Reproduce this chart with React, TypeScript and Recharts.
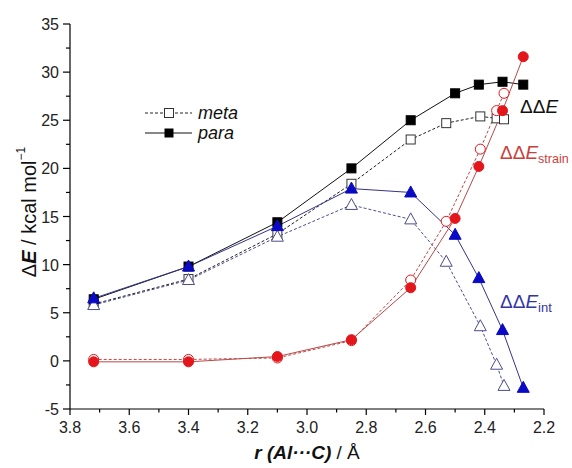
import { LineChart, Line, XAxis, YAxis } from 'recharts';

// r (Al···C) distances, Å
const rPara = [3.72, 3.40, 3.10, 2.85, 2.65, 2.50, 2.42, 2.34, 2.27];
const rMeta = [3.72, 3.40, 3.10, 2.85, 2.65, 2.53, 2.415, 2.36, 2.335];

// ΔΔE (total)
const totalPara = [6.4, 9.8, 14.4, 20.0, 25.0, 27.8, 28.7, 29.0, 28.7];
const totalMeta = [5.9, 8.5, 13.2, 18.4, 23.0, 24.7, 25.4, 25.2, 25.1];

// ΔΔE strain
const strainPara = [-0.1, -0.1, 0.45, 2.2, 7.6, 14.8, 20.2, 26.0, 31.6];
const strainMeta = [0.15, 0.15, 0.3, 2.1, 8.4, 14.5, 22.0, 26.0, 27.8];

// ΔΔE int
const intPara = [6.5, 9.8, 14.0, 17.9, 17.5, 13.1, 8.6, 3.2, -2.8];
const intMeta = [5.8, 8.4, 12.9, 16.2, 14.7, 10.3, 3.6, -0.4, -2.6];

const xTicks = [3.8, 3.7, 3.6, 3.5, 3.4, 3.3, 3.2, 3.1, 3.0, 2.9, 2.8, 2.7, 2.6, 2.5, 2.4, 2.3, 2.2];
const xLabels = [3.8, 3.6, 3.4, 3.2, 3.0, 2.8, 2.6, 2.4, 2.2];
const yTicks = [-5, -2.5, 0, 2.5, 5, 7.5, 10, 12.5, 15, 17.5, 20, 22.5, 25, 27.5, 30, 32.5, 35];
const yLabels = [-5, 0, 5, 10, 15, 20, 25, 30, 35];

const rows = (r: number[], v: number[]) => r.map((x, i) => ({ r: x, v: v[i] }));

const FONT = '"Liberation Sans", Arial, sans-serif';
const RED = '#e3161b';
const RED_LINE = '#b94848';
const BLUE = '#0a0ac4';
const BLUE_LINE = '#34348a';
const BLUE_OPEN = '#4d4d8a';

const square = (fill: string, stroke: string) => (p: any) => (
  <rect key={p.index} x={p.cx - 4.5} y={p.cy - 4.5} width={9} height={9} fill={fill} stroke={stroke} strokeWidth={1} />
);
const circle = (fill: string, stroke: string) => (p: any) => (
  <circle key={p.index} cx={p.cx} cy={p.cy} r={5} fill={fill} stroke={stroke} strokeWidth={1} />
);
const triangle = (fill: string, stroke: string) => (p: any) => (
  <polygon
    key={p.index}
    points={`${p.cx},${p.cy - 6.5} ${p.cx - 6},${p.cy + 4.5} ${p.cx + 6},${p.cy + 4.5}`}
    fill={fill}
    stroke={stroke}
    strokeWidth={1}
  />
);

const XTick = (p: any) => {
  const v = p.payload.value;
  const major = xLabels.some((l) => Math.abs(l - v) < 1e-6);
  return (
    <g>
      <line x1={p.x} x2={p.x} y1={p.y} y2={p.y + (major ? 6 : 3.5)} stroke="#000" strokeWidth={1.2} />
      {major && (
        <text x={p.x} y={p.y + 24} textAnchor="middle" fontSize={16} fontFamily={FONT} fill="#222">
          {v.toFixed(1)}
        </text>
      )}
    </g>
  );
};

const YTick = (p: any) => {
  const v = p.payload.value;
  const major = yLabels.includes(v);
  return (
    <g>
      <line x1={p.x - (major ? 7 : 4)} x2={p.x} y1={p.y} y2={p.y} stroke="#000" strokeWidth={1.2} />
      {major && (
        <text x={p.x - 11} y={p.y + 6} textAnchor="end" fontSize={16} fontFamily={FONT} fill="#222">
          {v}
        </text>
      )}
    </g>
  );
};

export default function App() {
  return (
    <div style={{ position: 'absolute', left: 0, top: 0 }}>
      <LineChart width={572} height={468} margin={{ top: 24, right: 28, left: 0, bottom: 0 }}>
        <XAxis
          dataKey="r"
          type="number"
          domain={[2.2, 3.8]}
          reversed
          allowDataOverflow
          ticks={xTicks}
          interval={0}
          tick={<XTick />}
          tickLine={false}
          tickSize={0}
          tickMargin={0}
          height={59}
          stroke="#000"
          strokeWidth={1.2}
        />
        <YAxis
          type="number"
          domain={[-5, 35]}
          allowDataOverflow
          ticks={yTicks}
          interval={0}
          tick={<YTick />}
          tickLine={false}
          tickSize={0}
          tickMargin={0}
          width={70}
          stroke="#000"
          strokeWidth={1.2}
        />

        <Line data={rows(rMeta, totalMeta)} dataKey="v" stroke="#222" strokeWidth={1} strokeDasharray="3 2" dot={square('#fff', '#333')} isAnimationActive={false} />
        <Line data={rows(rPara, totalPara)} dataKey="v" stroke="#111" strokeWidth={1} dot={square('#000', '#000')} isAnimationActive={false} />
        <Line data={rows(rMeta, intMeta)} dataKey="v" stroke={BLUE_OPEN} strokeWidth={1} strokeDasharray="3 2" dot={triangle('#fff', BLUE_OPEN)} isAnimationActive={false} />
        <Line data={rows(rPara, intPara)} dataKey="v" stroke={BLUE_LINE} strokeWidth={1} dot={triangle(BLUE, BLUE)} isAnimationActive={false} />
        <Line data={rows(rMeta, strainMeta)} dataKey="v" stroke={RED_LINE} strokeWidth={1} strokeDasharray="3 2" dot={circle('#fff', RED)} isAnimationActive={false} />
        <Line data={rows(rPara, strainPara)} dataKey="v" stroke={RED_LINE} strokeWidth={1} dot={circle(RED, RED)} isAnimationActive={false} />

        {/* legend */}
        <g fontFamily={FONT} fontSize={18} fontStyle="italic" fill="#111">
          <line x1={145} x2={192} y1={113} y2={113} stroke="#222" strokeDasharray="3 2" />
          <rect x={164.5} y={108.5} width={9} height={9} fill="#fff" stroke="#333" />
          <text x={198} y={119}>meta</text>
          <line x1={145} x2={192} y1={133} y2={133} stroke="#111" />
          <rect x={164.5} y={128.5} width={9} height={9} fill="#000" />
          <text x={198} y={139}>para</text>
        </g>

        {/* series labels */}
        <text x={520} y={113} fontFamily={FONT} fontSize={19} fill="#111">
          ΔΔ<tspan fontStyle="italic">E</tspan>
        </text>
        <text x={500} y={159} fontFamily={FONT} fontSize={19} fill="#c8403a">
          ΔΔ<tspan fontStyle="italic">E</tspan>
          <tspan fontSize={12.5} dy={4}>strain</tspan>
        </text>
        <text x={500} y={308} fontFamily={FONT} fontSize={19} fill="#3535a0">
          ΔΔ<tspan fontStyle="italic">E</tspan>
          <tspan fontSize={13} dy={4}>int</tspan>
        </text>

        {/* axis titles */}
        <text
          x={29}
          y={212}
          transform="rotate(-90, 29, 212)"
          textAnchor="middle"
          dominantBaseline="central"
          fontFamily={FONT}
          fontSize={20}
          fill="#111"
        >
          Δ<tspan fontWeight="bold" fontStyle="italic">E</tspan> / kcal mol
          <tspan fontSize={12} dy={-8}>−1</tspan>
        </text>
        <text x={307} y={459} textAnchor="middle" fontFamily={FONT} fontSize={19} fill="#111">
          <tspan fontWeight="bold" fontStyle="italic">r (Al···C)</tspan> / Å
        </text>
      </LineChart>
    </div>
  );
}
